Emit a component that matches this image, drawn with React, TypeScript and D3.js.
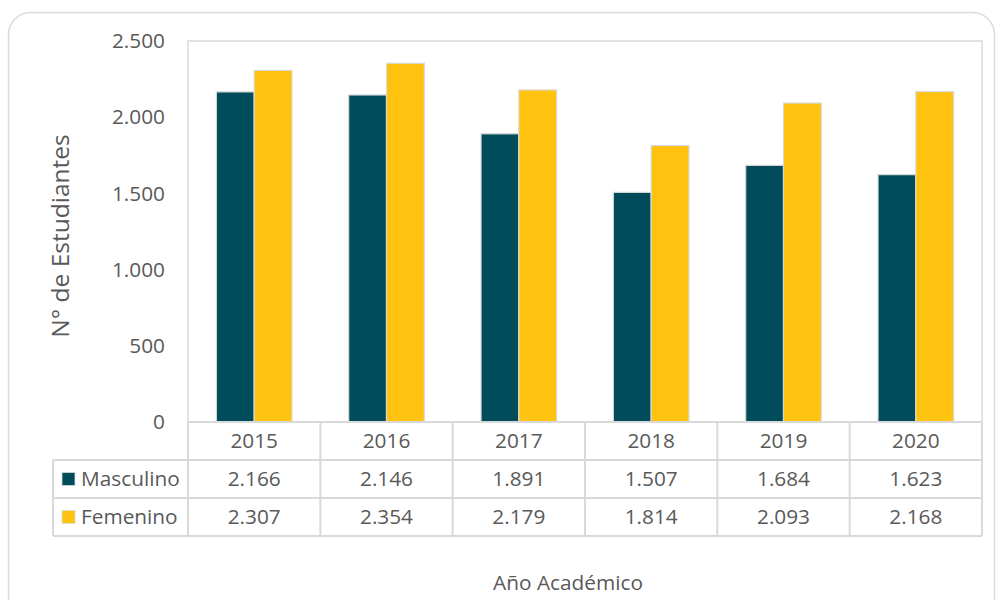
import React from "react";
import * as d3 from "d3";

const years = ["2015", "2016", "2017", "2018", "2019", "2020"];
const masculino = [2166, 2146, 1891, 1507, 1684, 1623];
const femenino = [2307, 2354, 2179, 1814, 2093, 2168];
const seriesNames = ["Masculino", "Femenino"];
const seriesColors = ["#004c5a", "#ffc20e"];
const yTicks = [0, 500, 1000, 1500, 2000, 2500];

const fmt = (v: number) => {
  const s = String(v);
  return s.length > 3 ? s.slice(0, s.length - 3) + "." + s.slice(s.length - 3) : s;
};

export default function App() {
  const W = 996, H = 600;
  const left = 188, right = 982, top = 41, bottom = 422;
  const rowH = 38;
  const tableLeft = 53;
  const font = "'Open Sans', sans-serif";
  const txt = "#595959";
  const grid = "#d9d9d9";
  const fs = 20.8;

  const x = d3.scaleBand<string>().domain(years).range([left, right]).paddingInner(0).paddingOuter(0);
  const bw = x.bandwidth();
  const barW = bw / 3.5;
  const xs = d3.scaleBand<string>().domain(seriesNames).range([0, barW * 2]);
  const y = d3.scaleLinear().domain([0, 2500]).range([bottom, top]);
  const series = [masculino, femenino];

  return (
    <svg width={W} height={H} style={{ position: "absolute", left: 0, top: 0 }} fontFamily={font}>
      <rect x={8.5} y={12.5} width={986} height={620} rx={22} fill="#fff" stroke={grid} strokeWidth={1.5} />
      <rect x={left} y={top} width={right - left} height={bottom - top} fill="none" stroke={grid} strokeWidth={1.5} />
      {series.map((vals, si) =>
        vals.map((v, i) => (
          <rect
            key={si + "-" + i}
            x={(x(years[i]) as number) + bw / 2 - barW + (xs(seriesNames[si]) as number)}
            y={y(v)}
            width={xs.bandwidth()}
            height={bottom - y(v)}
            fill={seriesColors[si]}
            stroke={grid}
            strokeWidth={1.2}
          />
        ))
      )}
      {yTicks.map((t) => (
        <text key={t} x={165} y={y(t)} dy="0.35em" textAnchor="end" fontSize={fs} fill={txt}>
          {fmt(t)}
        </text>
      ))}
      <g stroke={grid} strokeWidth={2} fill="none">
        <line x1={left} x2={right} y1={bottom} y2={bottom} />
        <line x1={tableLeft} x2={right} y1={bottom + rowH} y2={bottom + rowH} />
        <line x1={tableLeft} x2={right} y1={bottom + rowH * 2} y2={bottom + rowH * 2} />
        <line x1={tableLeft} x2={right} y1={bottom + rowH * 3} y2={bottom + rowH * 3} />
        <line x1={tableLeft} x2={tableLeft} y1={bottom + rowH} y2={bottom + rowH * 3} />
        {years.map((yr) => (
          <line key={yr} x1={x(yr) as number} x2={x(yr) as number} y1={bottom} y2={bottom + rowH * 3} />
        ))}
        <line x1={right} x2={right} y1={bottom} y2={bottom + rowH * 3} />
      </g>
      {years.map((yr) => (
        <text key={yr} x={(x(yr) as number) + bw / 2} y={bottom + rowH / 2} dy="0.35em" textAnchor="middle" fontSize={fs} fill={txt}>
          {yr}
        </text>
      ))}
      {series.map((vals, si) => (
        <g key={si}>
          <rect x={tableLeft + 9} y={bottom + rowH * (si + 1) + rowH / 2 - 6.5} width={13} height={13} fill={seriesColors[si]} stroke={grid} strokeWidth={0.8} />
          <text x={tableLeft + 28} y={bottom + rowH * (si + 1) + rowH / 2} dy="0.35em" fontSize={fs} fill={txt}>
            {seriesNames[si]}
          </text>
          {vals.map((v, i) => (
            <text key={i} x={(x(years[i]) as number) + bw / 2} y={bottom + rowH * (si + 1) + rowH / 2} dy="0.35em" textAnchor="middle" fontSize={fs} fill={txt}>
              {fmt(v)}
            </text>
          ))}
        </g>
      ))}
      <text transform={`translate(${60},${236}) rotate(-90)`} textAnchor="middle" dy="0.35em" fontSize={24.5} fill={txt}>
        N° de Estudiantes
      </text>
      <text x={568} y={583} textAnchor="middle" dy="0.35em" fontSize={fs} fill={txt}>
        Año Académico
      </text>
    </svg>
  );
}
